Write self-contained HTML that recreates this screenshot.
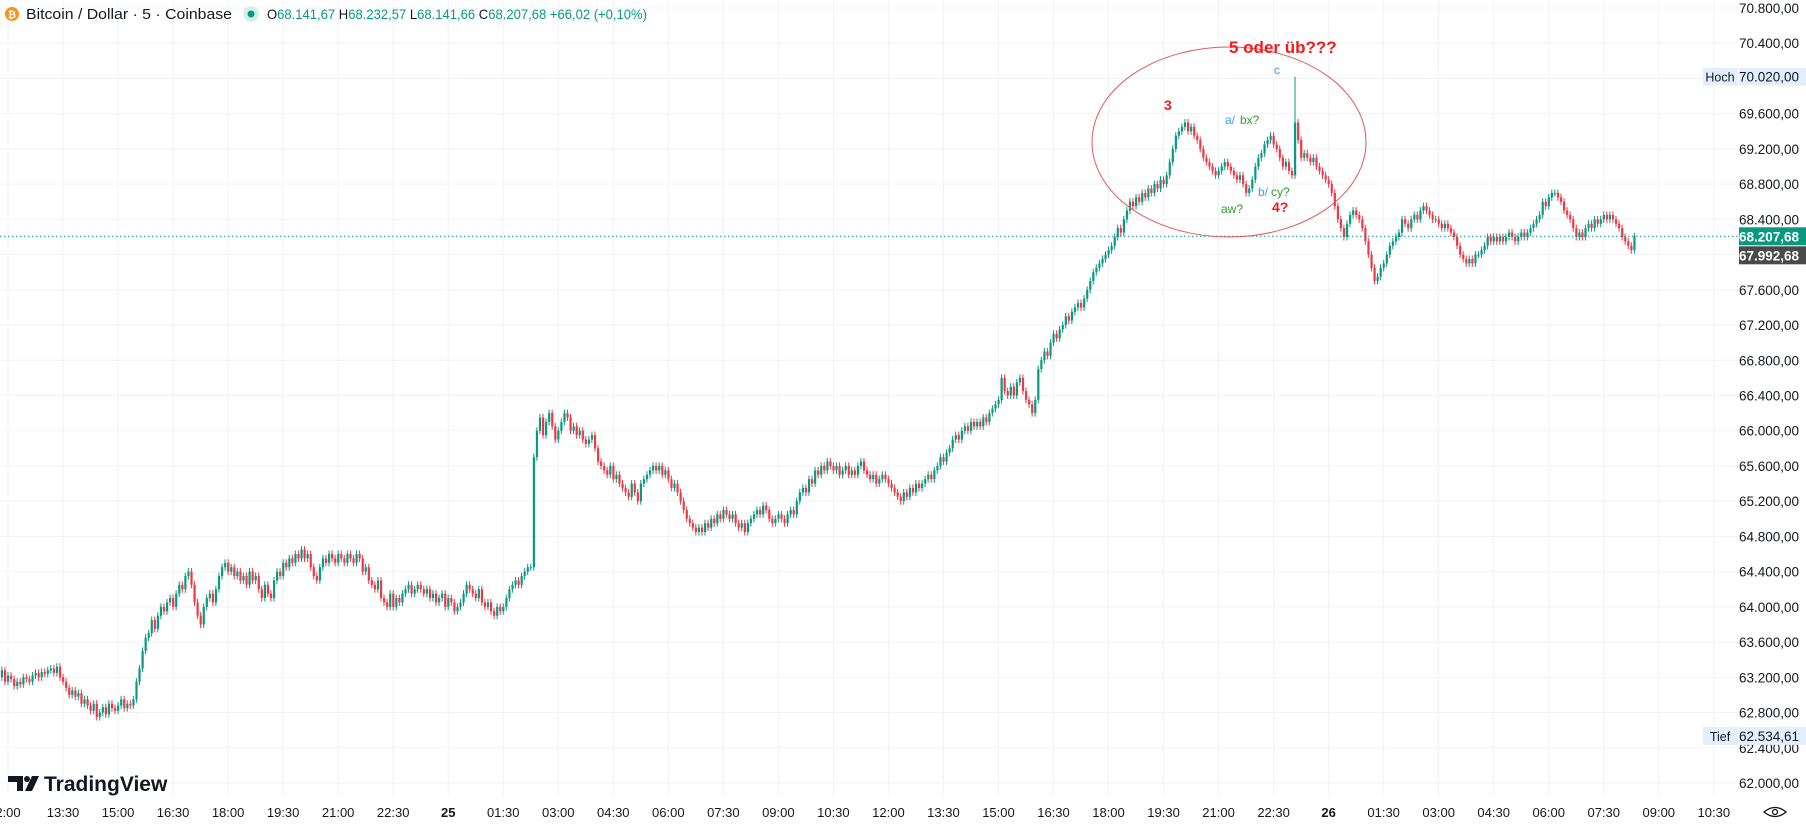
<!DOCTYPE html>
<html><head><meta charset="utf-8">
<style>
html,body{margin:0;padding:0;background:#fff;}
body{width:1806px;height:824px;overflow:hidden;font-family:"Liberation Sans",sans-serif;}
svg{display:block}
</style></head>
<body>
<svg id="chart" width="1806" height="824" viewBox="0 0 1806 824" xmlns="http://www.w3.org/2000/svg">
<g id="grid"></g>
<g id="candles"></g>
<g id="annot">
  <ellipse cx="1229" cy="142" rx="137" ry="95" fill="none" stroke="#e05a5a" stroke-width="1"/>
  <text x="1229" y="53" font-size="17" font-weight="bold" fill="#f21b1b">5 oder üb???</text>
  <text x="1164" y="110" font-size="14" font-weight="bold" fill="#f21b1b">3</text>
  <text x="1225" y="124" font-size="12" fill="#3d9df0">a/</text>
  <text x="1240" y="124" font-size="12" fill="#2e9e2e">bx?</text>
  <text x="1274" y="74" font-size="12" fill="#3d9df0">c</text>
  <text x="1258" y="196" font-size="12" fill="#3d9df0">b/</text>
  <text x="1271" y="196" font-size="12" fill="#2e9e2e">cy?</text>
  <text x="1221" y="213" font-size="12" fill="#2e9e2e">aw?</text>
  <text x="1272" y="212" font-size="14" font-weight="bold" fill="#f21b1b">4?</text>
</g>
<g id="axis"></g>
<g id="taxis"></g>
<g>
  <circle cx="12" cy="14" r="7" fill="#f7931a"/>
  <text x="12" y="18" font-size="10" font-weight="bold" fill="#fff" text-anchor="middle">₿</text>
  <text x="26" y="19" font-size="15" fill="#131722" textLength="206" lengthAdjust="spacingAndGlyphs">Bitcoin / Dollar · 5 · Coinbase</text>
  <circle cx="251" cy="14" r="8" fill="#d7efe9"/>
  <circle cx="251" cy="14" r="3.5" fill="#089981"/>
  <text x="267" y="19" font-size="14" fill="#089981" textLength="380" lengthAdjust="spacingAndGlyphs"><tspan fill="#131722">O</tspan>68.141,67 <tspan fill="#131722">H</tspan>68.232,57 <tspan fill="#131722">L</tspan>68.141,66 <tspan fill="#131722">C</tspan>68.207,68 +66,02 (+0,10%)</text>
</g>
<g>
  <path d="M8 776h15v15h-6v-9h-9z" fill="#131722"/>
  <circle cx="27" cy="779" r="3" fill="#131722"/>
  <path d="M32 776h7l-7 15h-7z" fill="#131722"/>
  <text x="44" y="791" font-size="21" font-weight="bold" fill="#131722">TradingView</text>
</g>
<g>
  <path d="M1764 812 q11 -9 22 0 q-11 9 -22 0z" fill="none" stroke="#131722" stroke-width="1.3"/>
  <circle cx="1775" cy="812" r="2.5" fill="none" stroke="#131722" stroke-width="1.3"/>
</g>
</svg>
<script>
const closes = [
63250,63200,63280,63150,63220,63180,63100,63150,63120,63200,
63180,63150,63220,63250,63200,63260,63240,63280,63300,63250,
63320,63200,63150,63080,63000,63050,62980,63020,62900,62950,
62880,62820,62900,62750,62800,62860,62780,62900,62850,62820,
62880,62950,62850,62900,62880,62950,63150,63300,63500,63650,
63700,63850,63750,63900,64000,63950,64050,64100,64000,64150,
64250,64200,64350,64400,64250,64050,63900,63800,64000,64100,
64150,64050,64200,64350,64450,64500,64400,64450,64350,64400,
64300,64350,64250,64400,64300,64350,64200,64100,64250,64150,
64100,64300,64400,64350,64500,64450,64550,64500,64600,64550,
64650,64550,64600,64450,64350,64300,64450,64550,64500,64600,
64550,64500,64600,64550,64500,64600,64550,64500,64600,64550,
64400,64450,64300,64250,64200,64300,64100,64050,64000,64150,
64000,64100,64050,64150,64200,64250,64150,64200,64250,64200,
64150,64200,64100,64150,64050,64100,64150,64000,64100,64050,
63950,64000,64050,64150,64250,64200,64150,64100,64200,64050,
64000,64050,63950,63900,64000,63950,64000,64100,64200,64250,
64300,64250,64350,64400,64450,64450,65700,66000,66150,65950,
66100,66200,66050,65900,66000,66100,66200,66150,66000,66050,
65950,66000,65900,65850,65900,65950,65800,65650,65600,65550,
65500,65600,65450,65500,65400,65350,65300,65250,65400,65300,
65200,65400,65450,65500,65550,65600,65550,65600,65500,65550,
65450,65350,65400,65300,65200,65100,65000,64950,64900,64850,
64900,64850,64950,64900,65000,64950,65050,65000,65100,65050,
65000,65050,64950,64900,64950,64850,64950,65000,65050,65100,
65050,65150,65100,65000,64950,65000,65050,65000,64950,65050,
65100,65050,65200,65300,65350,65300,65450,65400,65550,65500,
65600,65550,65650,65600,65550,65600,65500,65550,65600,65500,
65550,65500,65600,65650,65550,65500,65450,65500,65400,65450,
65500,65450,65400,65350,65300,65250,65200,65300,65250,65350,
65300,65400,65350,65400,65450,65500,65450,65550,65600,65700,
65650,65750,65800,65900,65950,65900,66000,66050,66000,66100,
66050,66100,66050,66150,66100,66200,66250,66300,66350,66600,
66450,66400,66500,66400,66550,66600,66450,66350,66300,66200,
66350,66700,66800,66900,66850,67000,67100,67050,67150,67200,
67300,67250,67350,67400,67450,67400,67500,67600,67700,67800,
67850,67900,67950,68000,68050,68100,68200,68300,68250,68400,
68500,68600,68550,68650,68600,68700,68650,68750,68700,68800,
68750,68850,68800,68900,69050,69200,69350,69400,69450,69500,
69400,69450,69350,69300,69200,69100,69050,69000,68950,68900,
68950,69000,69050,69000,68950,68900,68850,68900,68800,68700,
68750,68850,69000,69100,69150,69250,69300,69350,69250,69200,
69100,69000,69050,68950,68900,69500,69300,69100,69150,69100,
69050,69100,69000,68950,68900,68850,68800,68700,68550,68400,
68300,68200,68350,68450,68500,68450,68400,68300,68150,68000,
67850,67700,67750,67850,67900,68000,68100,68150,68200,68250,
68400,68350,68300,68400,68450,68400,68500,68550,68500,68450,
68400,68400,68350,68300,68350,68300,68250,68200,68100,68000,
67950,67900,67950,67900,68000,68000,68050,68100,68200,68150,
68200,68150,68200,68150,68200,68250,68200,68150,68200,68250,
68200,68250,68300,68350,68400,68450,68600,68550,68650,68700,
68700,68650,68600,68500,68450,68400,68300,68200,68250,68200,
68300,68350,68300,68400,68350,68400,68450,68400,68450,68400,
68350,68300,68200,68150,68100,68050,68207.68
];
const firstBarIndex = -4;
const priceTicks = [70800,70400,70000,69600,69200,68800,68400,68000,67600,67200,66800,66400,66000,65600,65200,64800,64400,64000,63600,63200,62800,62400,62000];
const timeLabels = ["2:00","13:30","15:00","16:30","18:00","19:30","21:00","22:30","25","01:30","03:00","04:30","06:00","07:30","09:00","10:30","12:00","13:30","15:00","16:30","18:00","19:30","21:00","22:30","26","01:30","03:00","04:30","06:00","07:30","09:00","10:30"];
const lastPrice = 68207.68;
const highPrice = 70020.00;
const lowPrice = 62534.61;
const spikeHigh = 70020;

const NS="http://www.w3.org/2000/svg";
const PLOT_R=1738;
function y(p){return 8+(70800-p)/8800*775;}
function x(i){return 8+3.057*i;}
function fmt(v){const s=v.toFixed(2).split('.');return s[0].replace(/\B(?=(\d{3})+(?!\d))/g,'.')+','+s[1];}
function mk(tag,attrs,parent){const e=document.createElementNS(NS,tag);for(const k in attrs)e.setAttribute(k,attrs[k]);parent.appendChild(e);return e;}

const grid=document.getElementById('grid');
const axis=document.getElementById('axis');
const taxis=document.getElementById('taxis');
priceTicks.forEach(p=>{
  const l=mk('line',{x1:0,x2:PLOT_R,y1:y(p),y2:y(p),stroke:'#f0f3fa','stroke-width':1},grid);
  
  
  const t=mk('text',{x:1799,y:y(p)+5,'font-size':13.5,fill:'#131722','text-anchor':'end'},axis);
  t.textContent=fmt(p);
  
  
});
timeLabels.forEach((lab,k)=>{
  const xx=x(k*18);
  const l=mk('line',{x1:xx,x2:xx,y1:0,y2:795,stroke:'#f0f3fa','stroke-width':1},grid);
  
  
  const t=mk('text',{x:xx,y:817,'font-size':13,fill:'#131722','text-anchor':'middle','font-weight':(lab==='25'||lab==='26')?'bold':'normal'},taxis);
  t.textContent=lab;
  
  
});

const cg=document.getElementById('candles');
let prev=closes[0]-30;
closes.forEach((c,k)=>{
  const i=k+firstBarIndex;
  const o=prev; prev=c;
  const up=c>=o;
  const col=up?'#089981':'#f23645';
  let hi=Math.max(o,c)+40, lo=Math.min(o,c)-40;
  if(c===69500&&k>400) hi=spikeHigh;
  const xc=x(i);
  const w=mk('line',{x1:xc,x2:xc,y1:y(hi),y2:y(lo),stroke:col,'stroke-width':1},cg);
  
  
  const top=y(Math.max(o,c)),bot=y(Math.min(o,c));
  const b=mk('rect',{x:xc-1,y:top,width:2.2,height:Math.max(1,bot-top),fill:col},cg);
  
  
});

const dl=mk('line',{x1:0,x2:PLOT_R,y1:y(lastPrice),y2:y(lastPrice),stroke:'#089981','stroke-width':1,'stroke-dasharray':'1.5 2.5'},cg);



function badge(py,label,bg,fg,name){
  const g=mk('g',{},axis);
  
  
  mk('rect',{x:1739,y:py-9,width:67,height:18,fill:bg},g);
  const t=mk('text',{x:1799,y:py+5,'font-size':13.5,fill:fg,'text-anchor':'end','font-weight':fg==='#fff'?'bold':'normal'},g);
  t.textContent=label;
}
badge(y(lastPrice),fmt(lastPrice),'#089981','#fff','last-price-badge');
badge(y(lastPrice)+19,'67.992,68','#4a4a4a','#fff','countdown-badge');
badge(y(highPrice),fmt(highPrice),'#e3effd','#131722','high-price-badge');
badge(y(lowPrice),fmt(lowPrice),'#e3effd','#131722','low-price-badge');
function tag(py,label,name){
  const g=mk('g',{},axis);
  
  
  mk('rect',{x:1703,y:py-9,width:35,height:18,fill:'#e3effd'},g);
  const t=mk('text',{x:1720,y:py+5,'font-size':12.5,fill:'#131722','text-anchor':'middle'},g);
  t.textContent=label;
}
tag(y(highPrice),'Hoch','high-tag');
tag(y(lowPrice),'Tief','low-tag');
</script>
</body></html>
